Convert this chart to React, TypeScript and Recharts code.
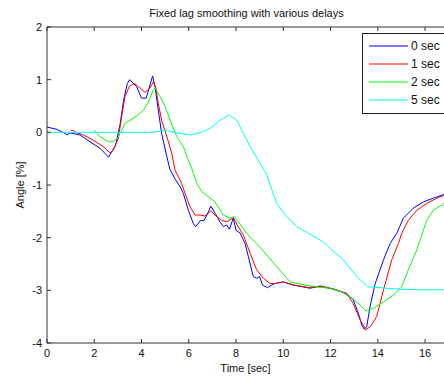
import React from "react";
import { LineChart, Line, XAxis, YAxis, Legend } from "recharts";

// [time (sec), angle (%)]
const lag0: [number, number][] = [
  [0, 0.1], [0.4, 0.06], [0.76, -0.02], [0.85, -0.05], [0.97, -0.01], [1.4, -0.05],
  [1.82, -0.18], [2.24, -0.3], [2.6, -0.47], [2.9, -0.25], [3.1, 0.17], [3.24, 0.61],
  [3.4, 0.93], [3.5, 1.0], [3.79, 0.87], [4.0, 0.65], [4.2, 0.65], [4.36, 0.9],
  [4.47, 1.07], [4.57, 0.87], [4.71, 0.42], [4.85, -0.02], [5.07, -0.46], [5.2, -0.7],
  [5.41, -0.88], [5.63, -1.03], [5.77, -1.16], [5.98, -1.48], [6.19, -1.73], [6.29, -1.79],
  [6.48, -1.68], [6.65, -1.67], [6.83, -1.51], [6.93, -1.4], [7.12, -1.54], [7.32, -1.7],
  [7.46, -1.79], [7.6, -1.76], [7.72, -1.84], [7.88, -1.63], [8.0, -1.86], [8.17, -1.91],
  [8.38, -2.11], [8.52, -2.36], [8.73, -2.74], [8.87, -2.77], [9.0, -2.74], [9.12, -2.9],
  [9.33, -2.95], [9.51, -2.9], [9.65, -2.87], [10.0, -2.84], [10.43, -2.9], [11.13, -2.96],
  [11.56, -2.92], [12.12, -2.98], [12.68, -3.06], [12.96, -3.18], [13.18, -3.44], [13.32, -3.66],
  [13.43, -3.74], [13.53, -3.69], [13.67, -3.31], [13.89, -2.87], [14.24, -2.42], [14.52, -2.11],
  [14.8, -1.92], [15.08, -1.63], [15.5, -1.44], [15.93, -1.32], [16.35, -1.25], [16.8, -1.18],
];

const lag1: [number, number][] = [
  [1.0, 0.04], [1.13, 0.03], [1.27, -0.01], [1.54, -0.05], [1.96, -0.15], [2.38, -0.27],
  [2.67, -0.39], [2.8, -0.34], [3.02, -0.11], [3.16, 0.3], [3.3, 0.68], [3.48, 0.87],
  [3.7, 0.93], [3.94, 0.84], [4.15, 0.76], [4.36, 0.84], [4.5, 0.96], [4.61, 0.84],
  [4.71, 0.55], [4.85, 0.23], [5.07, -0.08], [5.28, -0.4], [5.42, -0.72], [5.7, -0.97],
  [5.84, -1.16], [6.05, -1.41], [6.26, -1.57], [6.48, -1.57], [6.69, -1.59], [6.94, -1.49],
  [7.18, -1.6], [7.39, -1.67], [7.6, -1.7], [7.89, -1.62], [8.05, -1.76], [8.31, -1.95],
  [8.6, -2.3], [8.87, -2.61], [9.16, -2.77], [9.44, -2.87], [9.65, -2.87], [10.0, -2.84],
  [10.43, -2.9], [11.13, -2.95], [11.56, -2.92], [12.12, -2.97], [12.68, -3.06], [12.96, -3.25],
  [13.25, -3.56], [13.49, -3.75], [13.7, -3.68], [13.95, -3.5], [14.24, -2.99], [14.59, -2.42],
  [14.87, -2.11], [15.01, -1.92], [15.29, -1.67], [15.65, -1.48], [16.07, -1.35], [16.5, -1.25],
  [16.8, -1.19],
];

const lag2: [number, number][] = [
  [2.0, 0.04], [2.24, -0.08], [2.6, -0.18], [2.8, -0.18], [2.98, -0.11], [3.16, 0.04],
  [3.3, 0.17], [3.51, 0.23], [3.8, 0.31], [4.08, 0.42], [4.29, 0.58], [4.5, 0.8],
  [4.57, 0.84], [4.78, 0.68], [5.0, 0.49], [5.21, 0.23], [5.49, -0.08], [5.77, -0.27],
  [5.98, -0.53], [6.12, -0.68], [6.34, -0.97], [6.55, -1.13], [6.83, -1.22], [7.11, -1.32],
  [7.46, -1.57], [7.75, -1.63], [7.92, -1.6], [8.17, -1.74], [8.45, -1.92], [8.87, -2.11],
  [9.3, -2.33], [9.72, -2.55], [10.15, -2.77], [10.29, -2.84], [10.71, -2.88], [11.27, -2.93],
  [11.98, -2.96], [12.47, -3.03], [12.9, -3.15], [13.25, -3.28], [13.5, -3.39], [13.82, -3.34],
  [14.24, -3.22], [14.66, -3.09], [15.01, -2.93], [15.29, -2.61], [15.65, -2.23], [16.07, -1.67],
  [16.35, -1.48], [16.8, -1.35],
];

const lag5: [number, number][] = [
  [0, 0.0], [4.5, 0.0], [4.75, 0.02], [5.0, 0.04], [5.49, -0.01], [6.05, -0.05],
  [6.48, -0.01], [6.9, 0.08], [7.32, 0.23], [7.72, 0.33], [8.03, 0.23], [8.31, -0.02],
  [8.59, -0.27], [8.94, -0.53], [9.3, -0.81], [9.72, -1.35], [10.15, -1.6], [10.57, -1.79],
  [11.27, -1.97], [11.7, -2.08], [12.05, -2.23], [12.54, -2.42], [13.11, -2.74], [13.56, -2.93],
  [14.1, -2.95], [14.94, -2.98], [15.79, -2.99], [16.8, -2.99],
];

const series = [
  { name: "0 sec", color: "#0000ff", points: lag0 },
  { name: "1 sec", color: "#ff0000", points: lag1 },
  { name: "2 sec", color: "#00ff00", points: lag2 },
  { name: "5 sec", color: "#00ffff", points: lag5 },
];

const xTicks = [0, 2, 4, 6, 8, 10, 12, 14, 16];
const yTicks = [-4, -3, -2, -1, 0, 1, 2];

const font = "'Liberation Sans', Arial, sans-serif";
const axisColor = "#333333";
const tickStyle = { fontSize: 11, fill: "#111111", fontFamily: font };

const LegendBox = () => (
  <div
    style={{
      border: "1px solid #222",
      background: "#fff",
      padding: "3px 0 4px 6px",
      fontFamily: font,
      fontSize: 12,
      color: "#111",
      width: 100,
      boxSizing: "border-box",
    }}
  >
    {series.map((s) => (
      <div key={s.name} style={{ display: "flex", alignItems: "center", height: 18 }}>
        <svg width={39} height={4} style={{ marginRight: 3 }}>
          <line x1={0} y1={2} x2={39} y2={2} stroke={s.color} strokeWidth={1} />
        </svg>
        <span>{s.name}</span>
      </div>
    ))}
  </div>
);

export default function App() {
  return (
    <div
      style={{
        position: "absolute",
        left: 0,
        top: 0,
        width: 444,
        height: 378,
        background: "#fff",
        overflow: "hidden",
      }}
    >
      <LineChart width={444} height={378} margin={{ top: 26, right: 0, left: 0, bottom: 0 }}>
        <XAxis
          xAxisId="top"
          orientation="top"
          type="number"
          dataKey="t"
          domain={[0, 16.8]}
          ticks={xTicks}
          height={1}
          tickSize={-4}
          tick={() => <g />}
          stroke={axisColor}
          allowDataOverflow
          label={{
            content: (p: any) => (
              <text
                x={p.viewBox.x + p.viewBox.width / 2 + 1}
                y={17}
                textAnchor="middle"
                style={{ fontSize: 11, fontFamily: font, fill: "#111" }}
              >
                Fixed lag smoothing with various delays
              </text>
            ),
          }}
        />
        <XAxis
          type="number"
          dataKey="t"
          domain={[0, 16.8]}
          ticks={xTicks}
          height={35}
          tickSize={-4}
          tickMargin={10}
          tick={tickStyle}
          stroke={axisColor}
          allowDataOverflow
          label={{
            content: (p: any) => (
              <text
                x={p.viewBox.x + p.viewBox.width / 2}
                y={372}
                textAnchor="middle"
                style={{ fontSize: 11, fontFamily: font, fill: "#111" }}
              >
                Time [sec]
              </text>
            ),
          }}
        />
        <YAxis
          type="number"
          domain={[-4, 2]}
          ticks={yTicks}
          width={47}
          tickSize={-4}
          tickMargin={9}
          tick={tickStyle}
          stroke={axisColor}
          allowDataOverflow
          label={{
            content: (p: any) => {
              const cx = 21;
              const cy = p.viewBox.y + p.viewBox.height / 2;
              return (
                <text
                  x={cx}
                  y={cy}
                  textAnchor="middle"
                  dominantBaseline="middle"
                  transform={`rotate(-90, ${cx}, ${cy})`}
                  style={{ fontSize: 11, fontFamily: font, fill: "#111" }}
                >
                  Angle [%]
                </text>
              );
            },
          }}
        />
        {series.map((s) => (
          <Line
            key={s.name}
            data={s.points.map(([t, v]) => ({ t, v }))}
            dataKey="v"
            name={s.name}
            type="linear"
            stroke={s.color}
            strokeWidth={1}
            dot={false}
            activeDot={false}
            isAnimationActive={false}
          />
        ))}
        <Legend
          layout="vertical"
          align="center"
          verticalAlign="middle"
          content={() => <LegendBox />}
          wrapperStyle={{ position: "absolute", left: 362, top: 33, width: 100 }}
        />
      </LineChart>
    </div>
  );
}
